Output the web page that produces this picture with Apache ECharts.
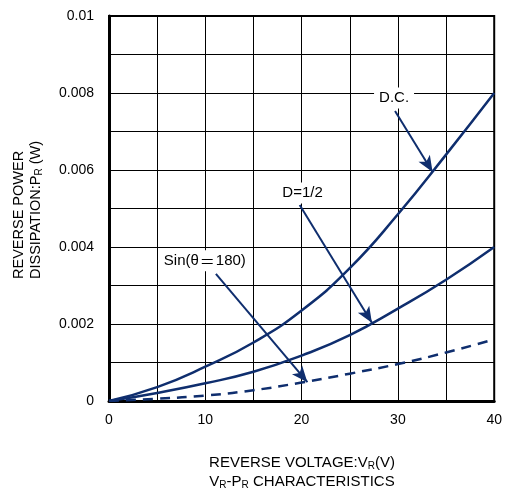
<!DOCTYPE html>
<html><head><meta charset="utf-8">
<script src="https://cdn.jsdelivr.net/npm/echarts@6/dist/echarts.min.js"></script>
<style>html,body{margin:0;padding:0;background:#fff}#c{width:505px;height:497px}</style>
</head><body><div id="c"></div>
<script>
const voltages = [0, 5, 10, 15, 20, 25, 30, 35, 40];
const dcPower = [0, 0.00036, 0.00089, 0.00152, 0.00235, 0.00345, 0.00485, 0.0064, 0.008];
const halfPower = [0, 0.00021, 0.00046, 0.00076, 0.00118, 0.00171, 0.0024, 0.00315, 0.004];
const sinPower = [0, 0.00006, 0.00014, 0.00028, 0.00048, 0.00071, 0.00096, 0.00126, 0.0016];
const xTicks = [0, 10, 20, 30, 40];
const yTicks = [0, 0.002, 0.004, 0.006, 0.008, 0.01];
const labelNames = ['D.C.', 'D=1/2', 'Sin(θ{e|＝}180)'];
const labelPos = [[29.6, 0.00787], [20.1, 0.0054], [9.95, 0.00364]];
const arrowFrom = [[29.7, 0.00753], [19.8, 0.00509], [11.1, 0.0033]];
const arrowTo = [[33.6, 0.00595], [27.3, 0.00203], [20.6, 0.00049]];

const navy = '#0f2e6e';
const chart = echarts.init(document.getElementById('c'));
const pair = a => voltages.map((v, i) => [v, a[i]]);
const font = 'Arial, "Liberation Sans", sans-serif';
const sub = {s: {fontSize: 10, verticalAlign: 'bottom', padding: [7, 0, 0, 0], fill: '#000', fontFamily: font}};
chart.setOption({
  animation: false,
  grid: {left: 109, right: 10, top: 16, bottom: 96, show: true, borderColor: '#000', borderWidth: 2, containLabel: false},
  xAxis: {type: 'value', min: 0, max: 40, interval: 5,
    axisLine: {show: true, onZero: false, lineStyle: {color: '#000', width: 3}},
    axisTick: {show: false},
    splitLine: {show: true, lineStyle: {color: '#000', width: 1}},
    axisLabel: {color: '#000', fontSize: 14, fontFamily: font, margin: 12,
      formatter: v => xTicks.includes(v) ? String(v) : ''}
  },
  yAxis: {type: 'value', min: 0, max: 0.01, interval: 0.001,
    axisLine: {show: true, onZero: false, lineStyle: {color: '#000', width: 3}},
    axisTick: {show: false},
    splitLine: {show: true, lineStyle: {color: '#000', width: 1}},
    axisLabel: {color: '#000', fontSize: 14, fontFamily: font, margin: 15,
      formatter: v => yTicks.some(t => Math.abs(t - v) < 1e-9) ? String(+v.toFixed(3)) : ''}
  },
  series: [
    {type: 'line', data: pair(dcPower), smooth: 0.5, symbol: 'none', lineStyle: {color: navy, width: 2.5}, z: 3},
    {type: 'line', data: pair(halfPower), smooth: 0.5, symbol: 'none', lineStyle: {color: navy, width: 2.5}, z: 3},
    {type: 'line', data: pair(sinPower), smooth: 0.5, symbol: 'none', lineStyle: {color: navy, width: 2.5, type: [10, 7]}, z: 3,
      markLine: {silent: true, symbol: ['none', 'arrow'], symbolSize: [10, 16], label: {show: false},
        lineStyle: {color: navy, width: 2, type: 'solid'},
        data: arrowFrom.map((f, i) => [{coord: f}, {coord: arrowTo[i]}])}
    },
    {type: 'scatter', symbolSize: 0, z: 5, silent: true, itemStyle: {opacity: 1},
      data: labelPos.map((p, i) => ({value: p, name: labelNames[i]})),
      label: {show: true, position: 'inside', formatter: p => p.name, color: '#000', opacity: 1, fontSize: 15, fontFamily: font,
        textBorderWidth: 0, textBorderColor: 'transparent', backgroundColor: '#fff', padding: [3, 5],
        rich: {e: {fontFamily: '"Noto Sans CJK JP", sans-serif', fontSize: 15, color: '#000', padding: [0, 1]}}}
    }
  ],
  graphic: [
    {type: 'text', x: 302, y: 463, style: {text: 'REVERSE VOLTAGE:V{s|R}(V)', align: 'center', verticalAlign: 'middle', fill: '#000', font: '15px ' + font, rich: sub}},
    {type: 'text', x: 302, y: 482, style: {text: 'V{s|R}-P{s|R} CHARACTERISTICS', align: 'center', verticalAlign: 'middle', fill: '#000', font: '15px ' + font, rich: sub}},
    {type: 'text', x: 27, y: 279, rotation: Math.PI / 2, style: {text: 'REVERSE POWER\nDISSIPATION:P{s|R} (W)', align: 'left', verticalAlign: 'middle', fill: '#000', font: '14.5px ' + font, lineHeight: 17, rich: sub}}
  ]
});
</script></body></html>
